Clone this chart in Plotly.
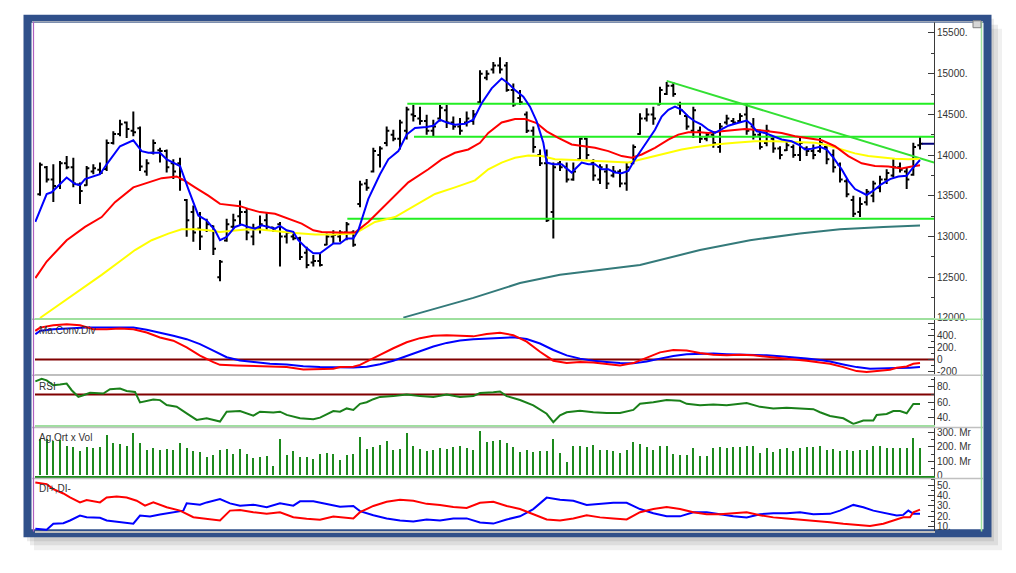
import plotly.graph_objects as go

W, H = 1016, 573

# Daily bars, index 0..132
highs = [13908, 13866, 13887, 13927, 13988, 13968, 13665, 13866, 13887, 13908,
         14191, 14292, 14434, 14413, 14535, 14352, 13948, 14191, 14090, 14069,
         13948, 13968, 13462, 13380, 13300, 13219, 13137, 12712, 13219, 13279,
         13441, 13340, 13158, 13259, 13300, 13118, 13179, 13077, 13036, 12996,
         12875, 12773, 12794, 13036, 13077, 13077, 13179, 13077, 13684, 13705,
         14090, 14109, 14352, 14312, 14434, 14595, 14616, 14595, 14494, 14434,
         14616, 14616, 14474, 14454, 14535, 14555, 15041, 15041, 15142, 15203,
         15142, 14879, 14798, 14535, 14352, 14069, 14069, 13908, 13927, 13908,
         13908, 14211, 14211, 13948, 13887, 13887, 13866, 13826, 13908, 14130,
         14515, 14576, 14595, 14838, 14899, 14899, 14656, 14494, 14595, 14352,
         14272, 14292, 14393, 14494, 14454, 14515, 14637, 14454, 14312, 14373,
         14231, 14109, 14170, 14130, 14211, 14109, 14130, 14211, 14109, 14069,
         13908, 13705, 13502, 13482, 13583, 13684, 13745, 13826, 13948, 13908,
         13847, 14151, 14231]
lows = [13502, 13665, 13425, 13583, 13826, 13604, 13401, 13623, 13765, 13765,
        13806, 14130, 14231, 14211, 14231, 13806, 13745, 14008, 13908, 13786,
        13705, 13563, 12996, 12936, 12834, 13057, 12773, 12450, 12936, 13097,
        13137, 12955, 12894, 13036, 13077, 13057, 12632, 12915, 12955, 12712,
        12611, 12632, 12632, 12894, 12915, 12936, 12955, 12875, 13361, 13563,
        13786, 13847, 14109, 14170, 14069, 14191, 14413, 14373, 14251, 14231,
        14413, 14333, 14312, 14251, 14352, 14373, 14637, 14920, 15001, 15001,
        14778, 14595, 14616, 14272, 14029, 13866, 13179, 12976, 13806, 13665,
        13684, 13948, 13948, 13684, 13644, 13583, 13725, 13604, 13563, 13887,
        14251, 14413, 14373, 14616, 14737, 14717, 14494, 14312, 14211, 14150,
        14170, 14090, 14029, 14373, 14373, 14393, 14251, 14191, 14069, 14109,
        14029, 13948, 14049, 13968, 13927, 13988, 13948, 14029, 13887, 13786,
        13665, 13482, 13239, 13239, 13380, 13421, 13543, 13644, 13725, 13786,
        13583, 13745, 14069]
opens = [13520, 13850, 13700, 13620, 13900, 13850, 13640, 13630, 13800, 13820,
         13830, 14150, 14260, 14400, 14300, 14330, 13800, 14030, 14060, 14050,
         13900, 13900, 13450, 13300, 13100, 13080, 13130, 12500, 12950, 13120,
         13250, 13300, 13000, 13100, 13200, 13110, 13150, 13000, 13000, 12980,
         12800, 12680, 12700, 12900, 13000, 13000, 13050, 13050, 13400, 13650,
         13800, 14000, 14150, 14250, 14200, 14300, 14500, 14450, 14420, 14300,
         14450, 14550, 14400, 14350, 14400, 14420, 14650, 14950, 15050, 15100,
         15100, 14800, 14700, 14500, 14300, 14000, 13900, 13300, 13900, 13850,
         13700, 13950, 14200, 13900, 13700, 13800, 13750, 13800, 13650, 13900,
         14260, 14450, 14500, 14620, 14750, 14850, 14620, 14480, 14300, 14300,
         14200, 14250, 14100, 14400, 14420, 14420, 14500, 14350, 14250, 14150,
         14200, 14080, 14060, 14100, 14000, 14080, 14050, 14050, 14100, 14000,
         13880, 13680, 13450, 13300, 13420, 13500, 13600, 13700, 13750, 13850,
         13800, 13760, 14120]
closes = [13880, 13700, 13620, 13900, 13850, 13650, 13560, 13840, 13840, 13780,
          14150, 14260, 14380, 14320, 14280, 13860, 13900, 14150, 14050, 13850,
          13800, 13700, 13200, 13050, 13000, 13150, 12850, 12690, 13150, 13200,
          13300, 13050, 13100, 13150, 13120, 13070, 13000, 13050, 12980, 12750,
          12650, 12700, 12650, 13000, 13020, 13050, 13150, 12900, 13640, 13600,
          14050, 14080, 14300, 14200, 14400, 14560, 14480, 14420, 14300, 14350,
          14580, 14400, 14350, 14300, 14450, 14500, 15000, 15000, 15100, 15050,
          14800, 14620, 14650, 14300, 14100, 13900, 13200, 13850, 13850, 13700,
          13800, 14200, 14000, 13750, 13850, 13650, 13800, 13650, 13850, 14100,
          14450, 14500, 14450, 14800, 14850, 14750, 14550, 14350, 14550, 14200,
          14250, 14150, 14350, 14450, 14400, 14480, 14300, 14250, 14100, 14300,
          14080, 14000, 14120, 14000, 14150, 14050, 14000, 14150, 13950, 13850,
          13700, 13520, 13280, 13400, 13550, 13650, 13700, 13780, 13850, 13820,
          13700, 14100, 14140]
volume = [254, 254, 238, 247, 203, 196, 165, 196, 191, 196,
          282, 226, 219, 203, 298, 226, 172, 191, 172, 179,
          172, 226, 191, 165, 158, 123, 142, 172, 179, 149,
          179, 149, 116, 128, 135, 65, 256, 142, 168, 128,
          123, 112, 149, 154, 149, 107, 142, 149, 270, 184,
          196, 214, 240, 172, 184, 294, 207, 184, 165, 172,
          191, 179, 196, 203, 191, 177, 312, 231, 238, 249,
          226, 196, 158, 172, 158, 165, 165, 256, 154, 93,
          207, 207, 196, 214, 172, 172, 165, 154, 177, 231,
          219, 196, 177, 203, 203, 149, 142, 142, 191, 135,
          135, 191, 196, 191, 196, 196, 207, 203, 154, 191,
          158, 179, 191, 165, 191, 196, 196, 207, 177, 184,
          165, 172, 165, 172, 177, 203, 203, 191, 191, 191,
          191, 261, 193]

# Moving averages, sampled (bar index, value)
ma_blue_x = [-0.7, 1, 1.75, 4, 5.25, 6, 6.75, 9, 10, 12, 14, 15.25, 16.25, 18, 19, 21, 22.25, 23.75,
             25, 26.25, 27, 28, 29.25, 30.25, 31.25, 32.25, 33.25, 35.25, 36, 37, 38, 38.75, 39.75,
             41, 42, 43, 44, 45, 46, 47, 47.75, 49.25, 51, 52.25, 53.75, 55, 56.25, 58, 59, 60,
             61.25, 62.25, 63.75, 65, 66.25, 67.75, 69.25, 70.25, 71.25, 72.5, 73.5, 74.5, 75.5, 76,
             77, 78.25, 79.75, 80.5, 81.25, 82.25, 83.25, 84.25, 85.25, 86.25, 87.25, 88.25, 89.25,
             90.25, 91.25, 92.25, 93.25, 94.25, 95.25, 96.25, 97.25, 98.25, 99.25, 100.25, 101.25,
             102.25, 103.25, 104.25, 106, 106.75, 107.5, 108.75, 110, 111.25, 112.75, 113.75,
             114.75, 115.75, 117, 118, 119, 120.25, 121.25, 122.25, 124, 125, 126.25, 127.5,
             128.75, 130, 130.75, 131.75, 132]
ma_blue_y = [13180, 13522, 13543, 13725, 13644, 13632, 13705, 13765, 13887, 14109, 14182, 14049,
             14029, 14029, 13948, 13866, 13583, 13259, 13198, 13077, 12955, 12996, 13118, 13146,
             13118, 13097, 13137, 13097, 13130, 13077, 13057, 12955, 12875, 12794, 12794, 12854,
             12915, 12915, 12976, 12976, 13077, 13462, 13765, 13948, 14049, 14252, 14333, 14345,
             14361, 14434, 14393, 14373, 14385, 14434, 14637, 14819, 14940, 14880, 14798, 14717,
             14595, 14413, 14151, 13908, 13887, 13887, 13786, 13847, 13908, 13887, 13887, 13826,
             13826, 13786, 13778, 13806, 13948, 14069, 14191, 14312, 14474, 14555, 14595, 14555,
             14474, 14413, 14373, 14312, 14272, 14312, 14361, 14385, 14425, 14373, 14292, 14272,
             14231, 14191, 14170, 14130, 14069, 14078, 14102, 14069, 13968, 13826, 13684, 13583,
             13510, 13563, 13644, 13705, 13738, 13745, 13826, 13908, 13940]
ma_red_x = [-0.7, 1, 4, 6.75, 9.25, 11.25, 14, 16.25, 18.25, 20.5, 21.75, 23.25, 25.25, 27, 28.75,
            30, 31.25, 33, 35.25, 37.25, 39.25, 41, 42.25, 44.75, 47.25, 49.25, 52.25, 55.25,
            58.25, 60.25, 62.25, 64.25, 66, 67.25, 69.25, 71.25, 72.75, 74.5, 76, 77.75, 79.75,
            81.75, 83.25, 85.25, 87.25, 88.75, 90.25, 92.25, 94.25, 95.75, 97.25, 99, 100.25,
            102.25, 104.25, 105.75, 107.25, 109.25, 111.25, 113.25, 115.25, 117.25, 119.25,
            121.25, 123.25, 125.25, 127.25, 129.25, 130.75, 132]
ma_red_y = [12490, 12693, 12955, 13118, 13239, 13422, 13604, 13665, 13717, 13738, 13684, 13604,
            13502, 13401, 13380, 13373, 13340, 13300, 13280, 13219, 13158, 13077, 13057, 13049,
            13049, 13179, 13422, 13665, 13826, 13948, 14029, 14069, 14151, 14272, 14401, 14442,
            14442, 14393, 14292, 14211, 14130, 14109, 14090, 14049, 13988, 13968, 14008, 14090,
            14191, 14252, 14280, 14280, 14272, 14292, 14304, 14321, 14312, 14292, 14272, 14231,
            14211, 14182, 14109, 13988, 13899, 13866, 13859, 13835, 13859, 13875]
ma_yellow_x = [0, 3, 6.5, 9.25, 12.25, 14.25, 16.75, 19.25, 21.25, 23.25, 25.25, 27, 29.25, 31.25,
               33, 35.25, 38.25, 41.25, 44.25, 47.25, 50.25, 53.25, 56.25, 59.25, 62.25, 65.25,
               67.25, 69.25, 71.25, 73.25, 75.25, 77.25, 80.25, 83.25, 86.25, 88.25, 90.25, 92.25,
               94.25, 96.25, 98.25, 101.25, 104.25, 107.25, 110.25, 113.25, 116.25, 118.25,
               120.25, 122.25, 124.25, 126.25, 128.25, 130.25, 132]
ma_yellow_y = [12000, 12170, 12368, 12530, 12712, 12834, 12955, 13036, 13089, 13089, 13077, 13057,
               13073, 13089, 13085, 13065, 13045, 13024, 13024, 13036, 13179, 13239, 13380, 13523,
               13604, 13690, 13826, 13908, 13968, 13996, 13988, 13948, 13939, 13927, 13915, 13908,
               13948, 13988, 14029, 14069, 14096, 14130, 14151, 14170, 14170, 14158, 14151, 14118,
               14069, 14021, 13988, 13968, 13956, 13948, 13956]
ma_long_x = [54.5, 65, 72, 78, 82, 84, 90, 99, 106.5, 114, 120, 126.5, 132]
ma_long_y = [12004, 12247, 12429, 12530, 12571, 12591, 12651, 12834, 12955, 13036, 13089, 13118, 13137]

# Support / resistance lines: start bar, level
X_END = 134.1
levels_start = [55.1, 56.1, 46.1]
levels = [14630, 14224, 13219]
trend_x = [94, X_END]
trend_y = [14911, 13908]

# MACD panel
macd_x = [-0.7, 0, 2, 4, 6, 8, 10, 12, 14, 16, 18, 20, 22, 24, 26, 27, 29.5, 32, 34.5, 37, 39.5,
          42, 44, 45, 47, 48, 49, 51, 53, 55, 57, 59, 61, 63, 65, 67, 69, 71, 73, 75, 77, 79, 81,
          83, 85, 87, 89, 91, 93, 95, 97, 99, 101, 103, 105, 107, 109, 111, 113, 115, 117, 118.5,
          120.5, 122.5, 124, 125.5, 127.5, 128.5, 130, 131, 132]
macd_y = [483, 538, 577, 593, 577, 510, 510, 522, 510, 455, 372, 317, 205, 67, -45, -90, -100,
          -112, -112, -128, -167, -167, -157, -128, -120, -90, -30, 80, 190, 290, 360, 400, 410,
          400, 390, 430, 450, 410, 300, 130, -20, -60, -40, -50, -80, -100, -60, 30, 120, 160,
          150, 110, 80, 70, 80, 70, 50, 30, 10, -20, -50, -73, -128, -195, -212, -195, -173,
          -140, -117, -73, -57]
signal_x = [-0.7, 0, 2, 4, 7, 12, 14, 16, 18, 20, 22, 24, 26, 28, 30, 32, 34.5, 37, 39.5, 42, 45,
            47, 49, 51, 53, 55, 57, 59, 61, 63, 65, 67, 69, 71, 73, 75, 77, 79, 81, 83, 85, 87,
            89, 91, 93, 95, 97, 99, 101, 103, 105, 107, 109, 111, 113, 115, 117, 118.5, 120.5,
            122.5, 124.5, 126.5, 128.5, 130.5, 132]
signal_y = [427, 483, 510, 522, 538, 538, 538, 500, 455, 400, 343, 260, 150, 38, -17, -45, -73,
            -83, -112, -128, -128, -135, -120, -80, -20, 60, 140, 220, 280, 320, 340, 355, 370,
            375, 345, 270, 160, 70, 15, -20, -40, -60, -65, -35, 15, 60, 90, 100, 100, 90, 85,
            80, 70, 55, 40, 15, -10, -33, -83, -128, -157, -157, -145, -140, -128]

# RSI panel
rsi_x = [-0.7, 0.25, 1, 2, 3, 4, 4.75, 5.75, 6.5, 7.5, 9.5, 10.5, 12, 13, 14.25, 15, 17, 18, 19,
         20.5, 22, 23.5, 25, 27, 28, 30, 32, 33, 35, 36, 37, 39, 41, 42, 44, 45, 46, 47, 48, 49,
         50, 51, 53, 55, 57, 59, 61, 63, 65, 66, 68, 69, 70, 72, 74, 76, 77, 78, 79, 81, 83, 85,
         87, 89, 90, 92, 94, 96, 97, 99, 101, 103, 105, 106, 108, 110, 112, 114, 116, 117,
         118.5, 120.5, 122, 123.5, 125, 125.5, 127, 128, 129, 130, 131, 132]
rsi_y = [87.3, 90.7, 88.6, 82.2, 83, 84.3, 75.7, 67.1, 69.2, 72.3, 71.4, 77, 77.8, 74.8, 73.5,
         59.8, 63.7, 62.8, 56.4, 54.2, 45.6, 37, 39.1, 34.8, 47.7, 48.6, 42.6, 47.7, 46.8, 47.7,
         43.5, 39.1, 37.8, 40, 48.6, 47.7, 52, 50, 58, 60, 64, 67, 68, 70, 68, 67, 70, 67, 68,
         72, 73, 74, 68, 63, 56, 45, 34, 43, 47, 49, 47, 46, 46, 50, 58, 60, 63, 62, 58, 56, 57,
         56, 58, 59, 54, 52, 53, 52, 51, 47, 42.2, 39.1, 31.8, 36.1, 36.1, 43.5, 44.8, 48.6,
         48.6, 45.6, 57.7, 57.7]

# DI+ / DI- panel
di_plus_x = [-0.7, 1, 2, 3.5, 4.5, 6, 7, 9, 10, 11.5, 13, 14.5, 15.75, 17, 19, 21, 23, 25, 27,
             28.5, 30, 32, 34, 36, 38, 40, 42, 44, 45, 47, 48, 50, 52, 54, 56, 58, 60, 62, 64,
             66, 68, 70, 72, 74, 76, 78, 80, 82, 84, 86, 88, 90, 92, 94, 96, 98, 100, 102, 104,
             106, 108, 110, 112, 114, 116, 118.5, 120.5, 122.5, 124.5, 126.5, 128.5, 129.5,
             130.5, 131, 132]
di_plus_y = [52.5, 51, 46.2, 42, 38.2, 33.4, 35.7, 33.4, 38.2, 39.1, 38.2, 35, 30.3, 33.4, 28.7,
             25.5, 19.1, 17.6, 16, 25.5, 26.2, 23.9, 22.4, 23.9, 19.1, 17.6, 16.7, 19.8, 19.1, 18,
             24, 30, 34, 36, 35, 32, 31, 29, 28, 33, 34, 30, 27, 22, 17, 16, 18, 21, 19, 18, 17,
             24, 27, 29, 27, 24, 22, 22, 23, 24, 21, 19, 18, 17, 16, 14.4, 12.9, 11.9, 10.6,
             12.9, 17, 19.1, 19.1, 23.9, 26.5]
di_minus_x = [-0.7, 1, 2, 3.5, 4.5, 6, 7, 9, 10, 12, 14, 15, 16.5, 18, 20, 21.5, 22, 24, 25, 27,
              28.5, 30, 32, 34, 36, 38, 39, 41, 43, 45, 47, 48, 50, 52, 54, 56, 58, 60, 62, 64,
              66, 68, 70, 72, 74, 76, 78, 80, 82, 84, 86, 88, 90, 92, 94, 96, 98, 100, 102, 104,
              106, 108, 110, 112, 114, 116, 118.5, 120, 122, 123.5, 125, 126.5, 128.5, 129.5,
              130.25, 131, 132]
di_minus_y = [8.1, 7.1, 12.9, 13.4, 16, 20.8, 19.1, 18.6, 16, 14.4, 12.9, 20.8, 19.8, 21.7, 23.9,
              25.5, 32.5, 31.2, 33.4, 36.7, 32.5, 30.3, 31.2, 28.7, 32.5, 30.3, 34.4, 34.4, 31.9,
              29.3, 30, 25, 21, 18, 16, 15, 17, 16, 18, 18, 14, 13, 17, 20, 27, 38, 36, 35, 31,
              32, 33, 33, 27, 23, 20, 20, 24, 24, 22, 20, 19, 22, 23, 23, 24, 22, 22.4, 25.5, 31,
              28.7, 25.5, 23.3, 20.8, 21.4, 25.5, 22.4, 22.4]

bars = list(range(len(closes)))
FONT = "Liberation Sans"
AXC = "#3a3a3a"


def px_x(x):
    return x / W


def px_y(y):
    return 1 - y / H


def px_rect(x0, y0, x1, y1, **kw):
    return dict(type="rect", xref="paper", yref="paper",
                x0=px_x(x0), x1=px_x(x1), y0=px_y(y1), y1=px_y(y0), **kw)


def px_line(x0, y0, x1, y1, color, width):
    return dict(type="line", xref="paper", yref="paper", x0=px_x(x0), x1=px_x(x1),
                y0=px_y(y0), y1=px_y(y1), line=dict(color=color, width=width))


fig = go.Figure()

# price panel
fig.add_trace(go.Scatter(x=ma_long_x, y=ma_long_y, mode="lines",
                         line=dict(color="#347a7a", width=2), xaxis="x", yaxis="y"))
for start, lev in zip(levels_start, levels):
    fig.add_trace(go.Scatter(x=[start, X_END], y=[lev, lev], mode="lines",
                             line=dict(color="#22ee22", width=2), xaxis="x", yaxis="y"))
fig.add_trace(go.Scatter(x=trend_x, y=trend_y, mode="lines",
                         line=dict(color="#33e033", width=2), xaxis="x", yaxis="y"))
fig.add_trace(go.Scatter(x=ma_yellow_x, y=ma_yellow_y, mode="lines",
                         line=dict(color="#ffff00", width=2), xaxis="x", yaxis="y"))
fig.add_trace(go.Scatter(x=ma_red_x, y=ma_red_y, mode="lines",
                         line=dict(color="#ff0000", width=2), xaxis="x", yaxis="y"))
fig.add_trace(go.Ohlc(x=bars, open=opens, high=highs, low=lows, close=closes,
                      increasing_line_color="black", decreasing_line_color="black",
                      line_width=2, tickwidth=0.4, xaxis="x", yaxis="y", hoverinfo="skip"))
fig.add_trace(go.Scatter(x=ma_blue_x, y=ma_blue_y, mode="lines",
                         line=dict(color="#0000ff", width=2), xaxis="x", yaxis="y"))
fig.add_trace(go.Scatter(x=[bars[-1] + 0.3, X_END], y=[closes[-1], closes[-1]], mode="lines",
                         line=dict(color="#00007a", width=2), xaxis="x", yaxis="y"))

# MACD
fig.add_trace(go.Scatter(x=[-1, X_END], y=[0, 0], mode="lines",
                         line=dict(color="#800000", width=2), xaxis="x2", yaxis="y2"))
fig.add_trace(go.Scatter(x=signal_x, y=signal_y, mode="lines",
                         line=dict(color="#0000ff", width=2), xaxis="x2", yaxis="y2"))
fig.add_trace(go.Scatter(x=macd_x, y=macd_y, mode="lines",
                         line=dict(color="#ff0000", width=2), xaxis="x2", yaxis="y2"))

# RSI
fig.add_trace(go.Scatter(x=[-1, X_END], y=[70, 70], mode="lines",
                         line=dict(color="#800000", width=2), xaxis="x3", yaxis="y3"))
fig.add_trace(go.Scatter(x=rsi_x, y=rsi_y, mode="lines",
                         line=dict(color="#1a801a", width=2), xaxis="x3", yaxis="y3"))

# Volume
fig.add_trace(go.Bar(x=bars, y=volume, width=0.32, marker=dict(color="#1d8a1d", line_width=0),
                     xaxis="x4", yaxis="y4"))

# DI+, DI-
fig.add_trace(go.Scatter(x=di_minus_x, y=di_minus_y, mode="lines",
                         line=dict(color="#0000ff", width=2), xaxis="x5", yaxis="y5"))
fig.add_trace(go.Scatter(x=di_plus_x, y=di_plus_y, mode="lines",
                         line=dict(color="#ff0000", width=2), xaxis="x5", yaxis="y5"))

XDOM = [px_x(35), px_x(934)]


def xax(anchor, y_bottom_color):
    return dict(domain=XDOM, range=[-0.75, X_END], anchor=anchor, showticklabels=False,
                showgrid=False, zeroline=False, ticks="", showline=True,
                linecolor=y_bottom_color, linewidth=1.5, fixedrange=True)


def yax(anchor, top, bottom, rng, minor_dtick, **kw):
    d = dict(domain=[px_y(bottom), px_y(top)], range=rng, anchor=anchor, side="right",
             showgrid=False, zeroline=False, showline=True, linecolor=AXC, linewidth=1,
             ticks="inside", ticklen=6, tickcolor=AXC, tickwidth=1,
             tickfont=dict(family=FONT, size=10, color="#333333"),
             minor=dict(tickmode="linear", tick0=0, dtick=minor_dtick, ticks="inside",
                        ticklen=3, tickcolor=AXC, tickwidth=1),
             fixedrange=True)
    d.update(kw)
    return d


layout = dict(
    width=W, height=H, margin=dict(l=0, r=0, t=0, b=0),
    paper_bgcolor="white", plot_bgcolor="rgba(0,0,0,0)", showlegend=False,
    bargap=0, hovermode=False,
    xaxis=dict(xax("y", "#9ee09e"), rangeslider=dict(visible=False)),
    xaxis2=xax("y2", "#bdbdbd"),
    xaxis3=xax("y3", "#9ee09e"),
    xaxis4=xax("y4", "#1d8a1d"),
    xaxis5=xax("y5", "#bdbdbd"),
    yaxis=yax("x", 21, 320.5, [11998, 15637], 250,
              tickmode="linear", tick0=12000, dtick=500, tickformat="d", ticksuffix="."),
    # the "600." label is hidden under the price panel in the original
    yaxis2=yax("x2", 322, 377.3, [-250, 672], 100,
               tickmode="array", tickvals=[-200, 0, 200, 400, 600],
               ticktext=["-200", "0", "200.", "400.", ""]),
    yaxis3=yax("x3", 380, 428.3, [30.6, 92.9], 10,
               tickmode="array", tickvals=[40, 60, 80], ticktext=["40.", "60.", "80."]),
    yaxis4=yax("x4", 432, 480, [-5, 331], 50,
               tickmode="array", tickvals=[0, 100, 200, 300],
               ticktext=["0", "100. Mr", "200. Mr", "300. Mr"]),
    yaxis5=yax("x5", 483, 536, [5.5, 56], 5,
               tickmode="array", tickvals=[10, 20, 30, 40, 50],
               ticktext=["10.", "20.", "30.", "40.", "50."]),
)

shapes = [
    # drop shadow and window frame
    px_rect(34, 28, 1002, 555, fillcolor="rgba(0,0,0,0.06)", line_width=0, layer="below"),
    px_rect(30, 24, 998, 550, fillcolor="rgba(0,0,0,0.08)", line_width=0, layer="below"),
    px_rect(27, 18, 994, 546, fillcolor="rgba(0,0,0,0.08)", line_width=0, layer="below"),
    px_rect(27.5, 18, 987.5, 538, fillcolor="white", line=dict(color="#30508a", width=8),
            layer="below"),
    # panel separators
    px_line(32, 21, 983, 21, "#c8c8c8", 1),
    px_line(32, 321.5, 983, 321.5, "#9ee09e", 1.5),
    px_line(32, 378.3, 983, 378.3, "#c0c0c0", 1.5),
    px_line(32, 431, 983, 431, "#c0c0c0", 1.5),
    px_line(32, 482.5, 983, 482.5, "#c0c0c0", 1.5),
    px_line(33.5, 21, 33.5, 536, "#b060c0", 1.2),
    px_line(981.5, 21, 981.5, 536, "#9ee09e", 1.5),
    # small window button
    px_rect(973, 20, 981, 27, fillcolor="#d6d6d6", line=dict(color="#808080", width=1)),
]
layout["shapes"] = shapes

labels = [("Ma.Conv.Div", 325), ("RSI", 382), ("Ag.Ort x Vol", 434), ("DI+,DI-", 485)]
layout["annotations"] = [
    dict(text=t, x=px_x(37), y=px_y(y), xref="paper", yref="paper", xanchor="left",
         yanchor="top", showarrow=False, font=dict(family=FONT, size=10, color="#333333"))
    for t, y in labels
]

fig.update_layout(**layout)
fig.write_html("out.html", config={"displayModeBar": False},
               post_script="document.body.style.margin='0px';"
                           "document.body.style.overflow='hidden';")
